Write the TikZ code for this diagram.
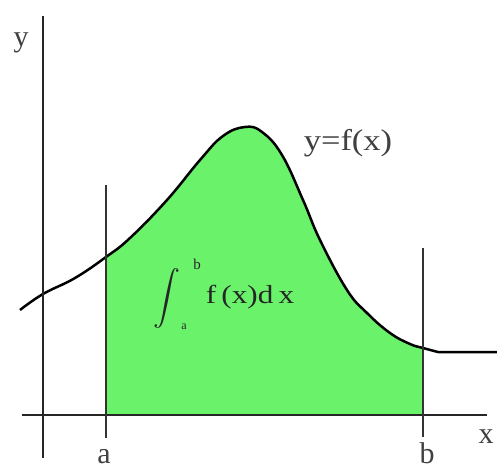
\documentclass[tikz,border=0pt]{standalone}
\usepackage{fontspec}
\setmainfont{Liberation Serif}
\begin{document}
\begin{tikzpicture}[x=1pt,y=-1pt,
  axisline/.style={line width=2.6pt, draw=black!85},
  boundline/.style={line width=2pt, draw=black!80},
  curveline/.style={line width=2.5pt, draw=black, line join=round},
  lbl/.style={font=\fontsize{30}{30}\selectfont, text=black!75, inner sep=0pt},
  small/.style={font=\fontsize{15}{15}\selectfont, text=black!85, inner sep=0pt}]
\definecolor{areagreen}{RGB}{106,242,106}
\useasboundingbox (0,0) rectangle (497,470);
% shaded area
\fill[areagreen] (106,415) -- plot[smooth, tension=0.7] coordinates {(106,257) (130,238) (167,200) (200,160) (223,136) (245,127) (262,132) (282,155) (303,200) (320,240) (347,290) (367,313) (390,333) (410,344) (423,348)} -- (423,415) -- cycle;
% curve
\draw[curveline] plot[smooth, tension=0.7] coordinates {(20,310) (43,294) (75,278) (106,257) (130,238) (167,200) (200,160) (223,136) (245,127) (262,132) (282,155) (303,200) (320,240) (347,290) (367,313) (390,333) (410,344) (423,348) (438,352)} -- (497,352);
% axes
\draw[axisline] (22,415) -- (487,415);
\draw[axisline] (43,16) -- (43,458);
% bounds
\draw[boundline] (106,185) -- (106,438);
\draw[boundline] (423,248) -- (423,437);
% labels
\node[lbl] (ylab) at (21,43) {y};
\node[lbl, xscale=1.15] (flab) at (348,143) {y=f(x)};
\node[lbl] (alab) at (104,457) {a};
\node[lbl] (blab) at (427,453) {b};
\node[lbl] (xlab) at (486,437) {x};
\node[inner sep=0pt, text=black!85] (intsign) at (167,298) {\scalebox{2.7}{$\displaystyle\int$}};
\node[small] (ub) at (197,264) {b};
\node[small, font=\fontsize{12}{12}\selectfont] (lb) at (184,327) {a};
\node[inner sep=0pt, font=\fontsize{26}{26}\selectfont, text=black!85, xscale=1.2] (integrand) at (250,297) {f\,(x)d\,x};
\end{tikzpicture}
\end{document}
